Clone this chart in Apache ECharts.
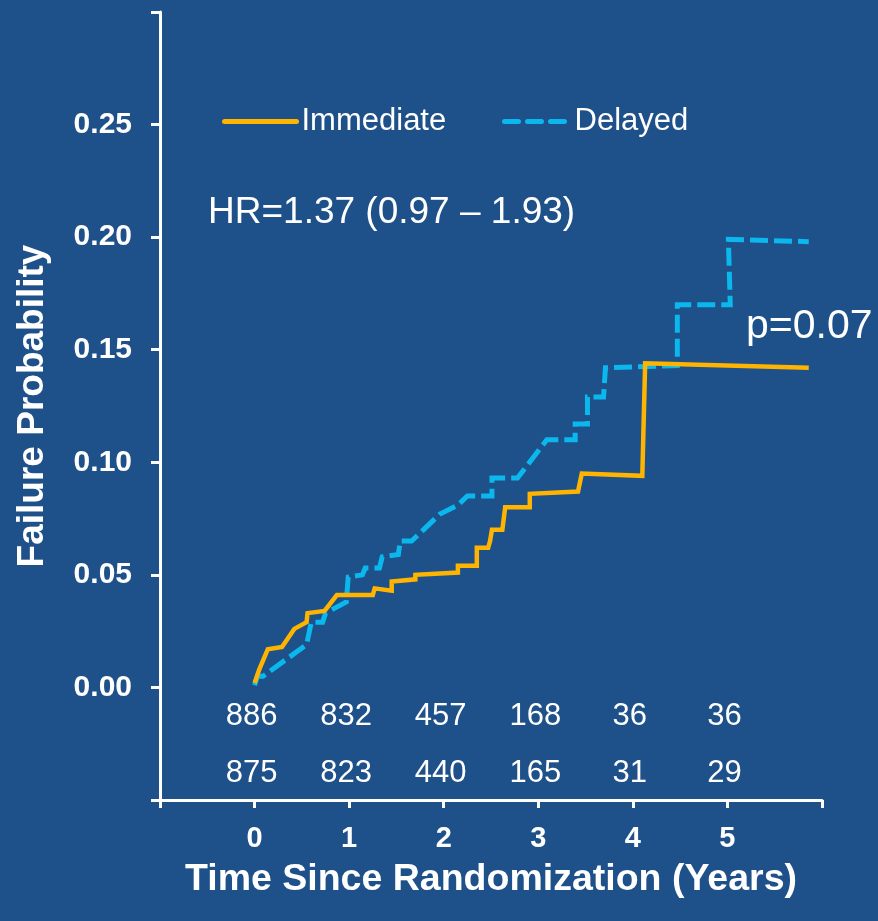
<!DOCTYPE html>
<html>
<head>
<meta charset="utf-8">
<script src="https://cdn.jsdelivr.net/npm/echarts@6/dist/echarts.min.js"></script>
<style>
html,body{margin:0;padding:0;background:#1e5089;}
#chart{width:878px;height:921px;}
</style>
</head>
<body>
<div id="chart"></div>
<script>
// Immediate arm (years, failure probability)
var immX = [0.00, 0.05, 0.14, 0.29, 0.42, 0.55, 0.56, 0.74, 0.87, 1.25, 1.27, 1.45, 1.45, 1.70, 1.70, 2.15, 2.15, 2.35, 2.35, 2.47, 2.49, 2.51, 2.62, 2.65, 2.91, 2.91, 3.42, 3.46, 4.10, 4.13, 5.86];
var immY = [0.002, 0.008, 0.017, 0.018, 0.026, 0.029, 0.033, 0.034, 0.041, 0.041, 0.044, 0.043, 0.047, 0.048, 0.050, 0.051, 0.054, 0.054, 0.062, 0.062, 0.065, 0.070, 0.070, 0.080, 0.080, 0.086, 0.087, 0.095, 0.094, 0.144, 0.142];
// Delayed arm
var delX = [0.00, 0.03, 0.09, 0.55, 0.60, 0.72, 0.75, 0.97, 0.99, 1.14, 1.17, 1.32, 1.35, 1.52, 1.54, 1.66, 1.96, 2.15, 2.25, 2.51, 2.51, 2.78, 3.09, 3.39, 3.39, 3.52, 3.52, 3.69, 3.71, 4.47, 4.47, 5.03, 5.01, 5.86];
var delY = [0.001, 0.005, 0.005, 0.019, 0.029, 0.029, 0.033, 0.038, 0.049, 0.050, 0.053, 0.053, 0.058, 0.059, 0.065, 0.065, 0.077, 0.081, 0.085, 0.085, 0.093, 0.093, 0.110, 0.110, 0.117, 0.117, 0.129, 0.129, 0.142, 0.143, 0.170, 0.170, 0.199, 0.198];
// Numbers at risk
var riskTimes = [0, 1, 2, 3, 4, 5];
var riskImmediate = [886, 832, 457, 168, 36, 36];
var riskDelayed = [875, 823, 440, 165, 31, 29];
// Tick labels
var xTickLabels = ['0', '1', '2', '3', '4', '5'];
var yTickLabels = ['0.00', '0.05', '0.10', '0.15', '0.20', '0.25'];
var seriesNames = ['Immediate', 'Delayed'];
var hrText = 'HR=1.37 (0.97 \u2013 1.93)';
var pText = 'p=0.07';

var FONT = "'Liberation Sans', Arial, sans-serif";
var ORANGE = '#ffb400';
var CYAN = '#0ab8ee';
var WHITE = '#ffffff';

function zip(xs, ys) { return xs.map(function (x, i) { return [x, ys[i]]; }); }

var chart = echarts.init(document.getElementById('chart'), null, {renderer: 'canvas'});
var riskLabel = {
  show: true, position: 'inside', offset: [-3, 0], color: WHITE, opacity: 1,
  textBorderWidth: 0, fontSize: 31, fontFamily: FONT,
  formatter: function (p) { return String(p.value[2]); }
};
var option = {
  backgroundColor: '#1e5089',
  animation: false,
  grid: {left: 160, right: 56, top: 12, bottom: 121, containLabel: false},
  legend: [
    {
      data: [{name: seriesNames[0], itemStyle: {opacity: 0}}], left: 217, top: 101,
      itemWidth: 72, itemHeight: 20,
      lineStyle: {color: ORANGE, width: 5, cap: 'round'},
      textStyle: {color: WHITE, fontSize: 31, fontFamily: FONT}
    },
    {
      data: [{name: seriesNames[1], itemStyle: {opacity: 0}}], left: 497, top: 101,
      itemWidth: 65, itemHeight: 20,
      lineStyle: {color: CYAN, width: 5, type: [14, 9], cap: 'round'},
      textStyle: {color: WHITE, fontSize: 31, fontFamily: FONT}
    }
  ],
  xAxis: {
    type: 'value', min: -1, max: 6, interval: 1,
    splitLine: {show: false},
    axisLine: {onZero: false, lineStyle: {color: WHITE, width: 3}},
    axisTick: {show: true, length: 8, inside: false, lineStyle: {color: WHITE, width: 3}},
    axisLabel: {
      color: WHITE, fontSize: 29, fontWeight: 'bold', fontFamily: FONT, margin: 24,
      formatter: function (v) { var i = Math.round(v); return (i >= 0 && i < xTickLabels.length) ? xTickLabels[i] : ''; }
    },
    name: 'Time Since Randomization (Years)', nameLocation: 'middle', nameGap: 61,
    nameTextStyle: {color: WHITE, fontSize: 37.5, fontWeight: 'bold', fontFamily: FONT}
  },
  yAxis: {
    type: 'value', min: -0.05, max: 0.30, interval: 0.05,
    splitLine: {show: false},
    axisLine: {onZero: false, lineStyle: {color: WHITE, width: 3}},
    axisTick: {show: true, length: 9, inside: false, lineStyle: {color: WHITE, width: 3}},
    axisLabel: {
      color: WHITE, fontSize: 30, fontWeight: 'bold', fontFamily: FONT, margin: 28,
      formatter: function (v) { var i = Math.round(v / 0.05); return (i >= 0 && i < yTickLabels.length) ? yTickLabels[i] : ''; }
    },
    name: 'Failure Probability', nameLocation: 'middle', nameGap: 109, nameRotate: 90,
    nameTextStyle: {color: WHITE, fontSize: 37, fontWeight: 'bold', fontFamily: FONT}
  },
  series: [
    {
      name: seriesNames[1], type: 'line', data: zip(delX, delY), z: 2,
      symbol: 'none', showSymbol: false, smooth: false,
      itemStyle: {color: CYAN},
      lineStyle: {color: CYAN, width: 5, type: [18, 6], cap: 'butt', join: 'miter'}
    },
    {
      name: seriesNames[0], type: 'line', data: zip(immX, immY), z: 3,
      symbol: 'none', showSymbol: false, smooth: false,
      itemStyle: {color: ORANGE},
      lineStyle: {color: ORANGE, width: 4.5, join: 'miter'}
    },
    {
      type: 'scatter', symbolSize: 0, silent: true, itemStyle: {opacity: 1},
      data: riskTimes.map(function (t, i) { return [t, -0.013, riskImmediate[i]]; }),
      label: riskLabel
    },
    {
      type: 'scatter', symbolSize: 0, silent: true, itemStyle: {opacity: 1},
      data: riskTimes.map(function (t, i) { return [t, -0.038, riskDelayed[i]]; }),
      label: riskLabel
    }
  ],
  graphic: [
    {type: 'text', left: 208, top: 194, style: {text: hrText, fill: WHITE, font: '37px ' + FONT}},
    {type: 'text', left: 746, top: 306, style: {text: pText, fill: WHITE, font: '41px ' + FONT}}
  ]
};
chart.setOption(option);
</script>
</body>
</html>
